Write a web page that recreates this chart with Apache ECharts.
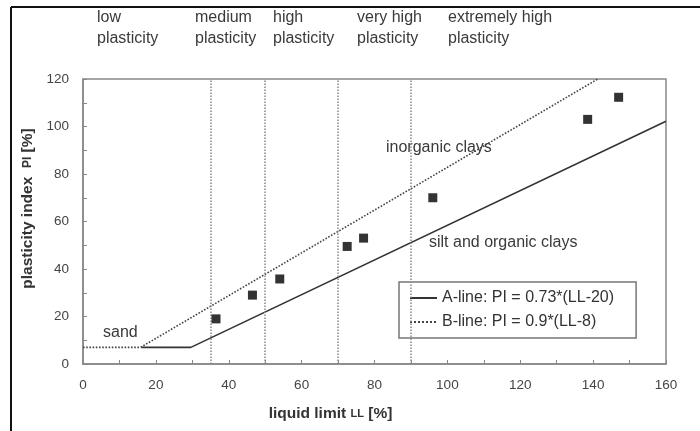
<!DOCTYPE html>
<html>
<head>
<meta charset="utf-8">
<script src="https://cdn.jsdelivr.net/npm/echarts@6/dist/echarts.min.js"></script>
<style>
html,body{margin:0;padding:0;background:#fff;}
#chart{width:700px;height:431px;}
</style>
</head>
<body>
<div id="chart"></div>
<script>
// ---- data ----
var liquidLimit = [36.5, 46.5, 54, 72.5, 77, 96, 138.5, 147];
var plasticityIndex = [19, 29, 35.8, 49.5, 53, 70, 103, 112.3];
var aLineLL = [16, 29.6, 160];
var aLinePI = [7, 7, 102.2];
var bLineLL = [0, 15.8, 141.3];
var bLinePI = [7, 7, 120];
var boundaries = [35, 50, 70, 90];
var xTicks = [0, 160, 20];
var yTicks = [0, 120, 20];
var zoneLabels = ['low\nplasticity', 'medium\nplasticity', 'high\nplasticity', 'very high\nplasticity', 'extremely high\nplasticity'];
var zoneLabelX = [97, 195, 273, 357, 448];

var FONT = '"Liberation Sans", Arial, sans-serif';

function pairs(xs, ys){ return xs.map(function(x,i){ return [x, ys[i]]; }); }

var chart = echarts.init(document.getElementById('chart'), null, {renderer:'canvas'});

var graphics = [
  {type:'line', shape:{x1:11,y1:7,x2:700,y2:7}, style:{stroke:'#111',lineWidth:2}, z:100},
  {type:'line', shape:{x1:11,y1:7,x2:11,y2:431}, style:{stroke:'#111',lineWidth:2}, z:100},
  {type:'text', left:386, top:140, style:{text:'inorganic clays', font:'16px '+FONT, fill:'#3a3a3a'}},
  {type:'text', left:429, top:235, style:{text:'silt and organic clays', font:'16px '+FONT, fill:'#3a3a3a'}},
  {type:'text', left:103, top:325, style:{text:'sand', font:'16px '+FONT, fill:'#3a3a3a'}}
];
zoneLabels.forEach(function(t,i){
  graphics.push({type:'text', left:zoneLabelX[i], top:7, style:{text:t, font:'16px '+FONT, fill:'#3a3a3a', lineHeight:21}});
});

var option = {
  animation:false,
  backgroundColor:'#fff',
  grid:{left:83, top:79, right:34, bottom:67, show:true, borderColor:'#888', borderWidth:1.5},
  xAxis:{
    type:'value', min:xTicks[0], max:xTicks[1], interval:xTicks[2],
    name:'liquid limit {s|LL} [%]', nameLocation:'middle', nameGap:42,
    nameTextStyle:{fontFamily:FONT, fontSize:15.5, fontWeight:'bold', color:'#333', padding:[0,88,0,0],
      rich:{s:{fontSize:11, fontWeight:'bold', color:'#333', fontFamily:FONT}}},
    axisLine:{show:true, lineStyle:{color:'#888', width:1.5}},
    axisTick:{show:true, inside:true, length:4, lineStyle:{color:'#888'}},
    minorTick:{show:true, splitNumber:2, length:4, lineStyle:{color:'#888'}},
    axisLabel:{fontFamily:FONT, fontSize:13.5, color:'#444', margin:14},
    splitLine:{show:false}
  },
  yAxis:{
    type:'value', min:yTicks[0], max:yTicks[1], interval:yTicks[2],
    name:'plasticity index  {s|PI} [%]', nameLocation:'middle', nameGap:42,
    nameTextStyle:{fontFamily:FONT, fontSize:15.5, fontWeight:'bold', color:'#333', padding:[0,0,0,26],
      rich:{s:{fontSize:12, fontWeight:'bold', color:'#333', fontFamily:FONT}}},
    axisLine:{show:true, lineStyle:{color:'#888', width:1.5}},
    axisTick:{show:true, inside:true, length:4, lineStyle:{color:'#888'}},
    minorTick:{show:true, splitNumber:2, length:4, lineStyle:{color:'#888'}},
    axisLabel:{fontFamily:FONT, fontSize:13.5, color:'#444', margin:14},
    splitLine:{show:false}
  },
  legend:{
    orient:'vertical', left:399, top:282,
    data:[
      {name:'A-line: PI = 0.73*(LL-20)', itemStyle:{opacity:0}},
      {name:'B-line: PI = 0.9*(LL-8)', itemStyle:{opacity:0}}
    ],
    backgroundColor:'#fff', borderColor:'#777', borderWidth:1.5,
    padding:[8,22,8,10], itemGap:8, itemWidth:27, itemHeight:14,
    textStyle:{fontFamily:FONT, fontSize:16, color:'#333'}
  },
  graphic:graphics,
  series:[
    {
      name:'boundaries', type:'line', data:[], silent:true,
      markLine:{silent:true, symbol:'none', label:{show:false},
        lineStyle:{color:'#888', type:'dotted', width:1.5},
        data: boundaries.map(function(v){ return {xAxis:v}; })}
    },
    {
      name:'A-line: PI = 0.73*(LL-20)', type:'line', data:pairs(aLineLL, aLinePI),
      symbol:'none', lineStyle:{color:'#333', width:1.6, type:'solid'}, itemStyle:{color:'#555'}, z:3
    },
    {
      name:'B-line: PI = 0.9*(LL-8)', type:'line', data:pairs(bLineLL, bLinePI),
      symbol:'none', lineStyle:{color:'#444', width:1.6, type:'dotted'}, itemStyle:{color:'#555'}, z:3
    },
    {
      name:'samples', type:'scatter', data:pairs(liquidLimit, plasticityIndex),
      symbol:'rect', symbolSize:9, itemStyle:{color:'#000'}, z:5
    }
  ]
};
chart.setOption(option);
</script>
</body>
</html>
